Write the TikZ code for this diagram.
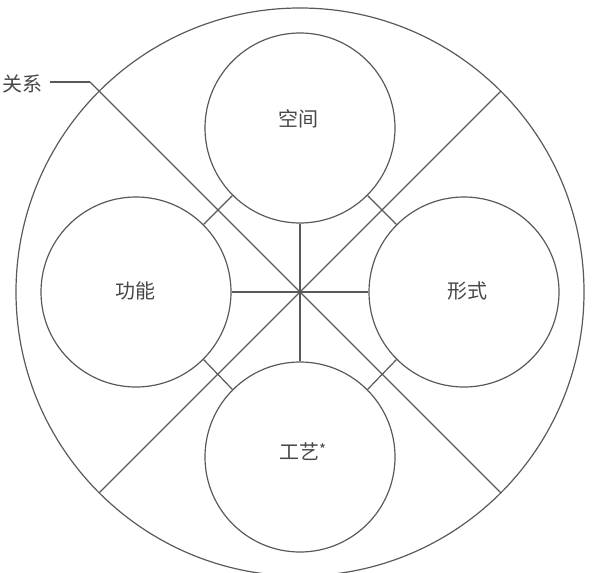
\documentclass[tikz,border=0pt]{standalone}
\usepackage{fontspec}
\newfontfamily\cjk{Noto Sans CJK SC}
\begin{document}
\begin{tikzpicture}[x=1pt,y=-1pt,
  ln/.style={draw=black!65,line width=1.2pt},
  ring/.style={circle,ln,inner sep=0pt,minimum size=190pt},
  lbl/.style={text=black!72,font=\cjk\fontsize{20}{20}\selectfont,inner sep=0pt}]
\useasboundingbox (0,0) rectangle (596,572);
\coordinate (c) at (300,292);
\node[circle,ln,inner sep=0pt,minimum size=568pt] (big) at (c) {};
\node[ring] (top) at (300,128) {};
\node[ring] (left) at (136,292) {};
\node[ring] (right) at (464,292) {};
\node[ring] (bot) at (300,457) {};
\coordinate (ul) at (90,82);
% diagonals
\draw[ln] (big.-45) -- (ul);
\draw[ln] (big.45) -- (big.225);
% orthogonal spokes
\draw[ln] (c) -- (top.south);
\draw[ln] (c) -- (bot.north);
\draw[ln] (c) -- (left.east);
\draw[ln] (c) -- (right.west);
% ties between rings
\draw[ln] (left.45) -- (top.225);
\draw[ln] (top.-45) -- (right.135);
\draw[ln] (right.225) -- (bot.45);
\draw[ln] (bot.135) -- (left.-45);
% labels
\node[lbl] (t1) at (298,119) {空间};
\node[lbl] (t2) at (135,291) {功能};
\node[lbl] (t3) at (467,291) {形式};
\node[lbl,anchor=west] (t4) at (279,452) {工艺\raisebox{4pt}{\fontsize{15}{15}\selectfont*}};
\node[lbl] (rel) at (22,84) {关系};
\draw[ln] (ul) -- ([xshift=8pt]rel.east |- ul);
\end{tikzpicture}
\end{document}
